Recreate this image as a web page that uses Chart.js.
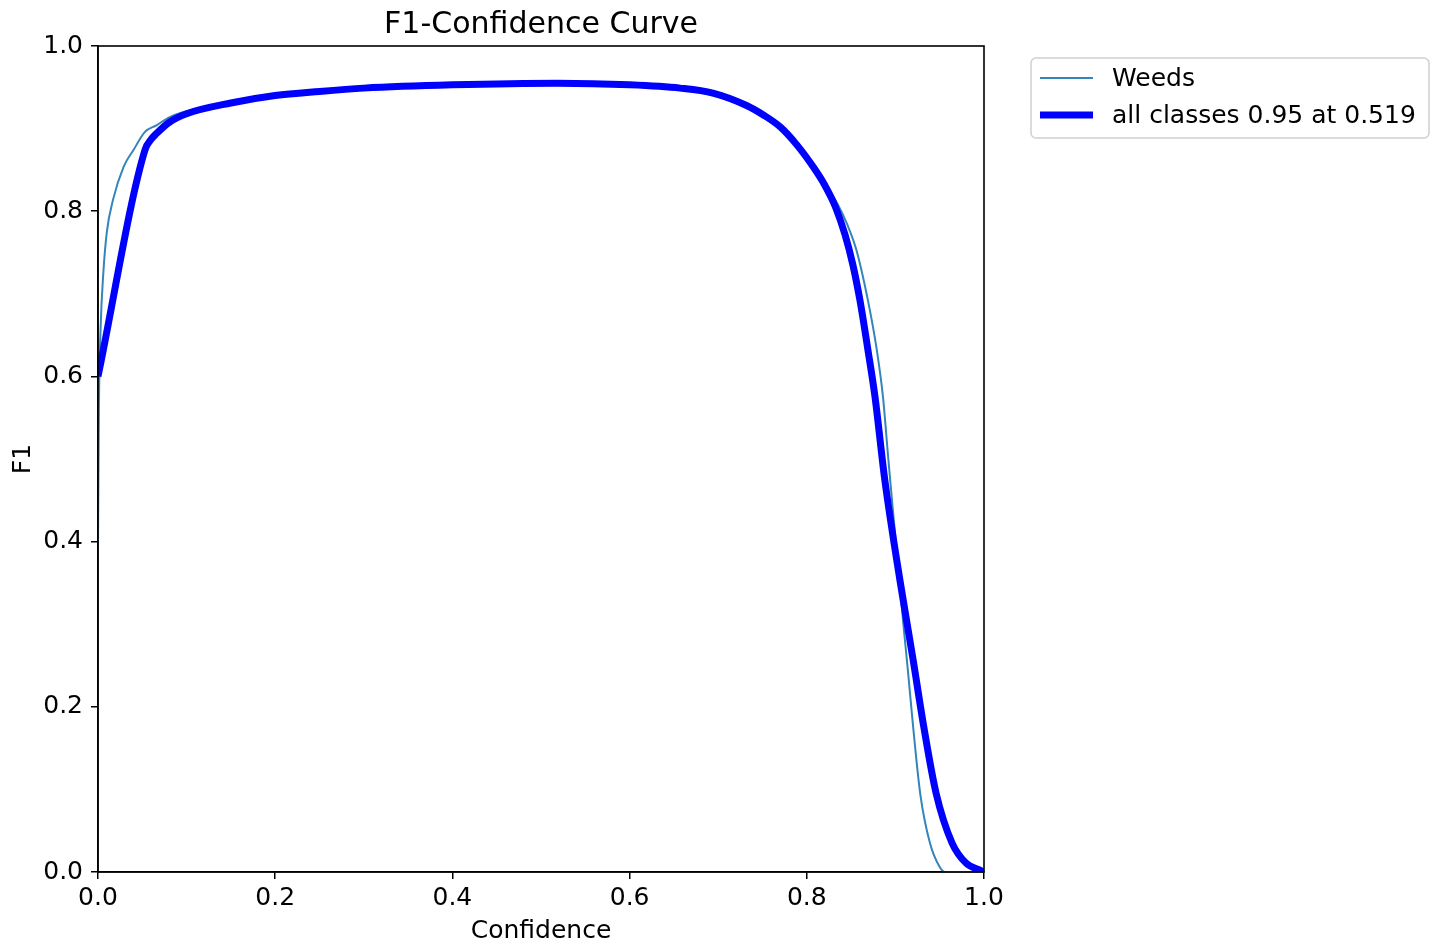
<!DOCTYPE html>
<html>
<head>
<meta charset="utf-8">
<script src="https://cdn.jsdelivr.net/npm/chart.js@4.4.1/dist/chart.umd.min.js"></script>
<style>
  html, body { margin: 0; padding: 0; background: #ffffff; }
  #wrap { width: 1437px; height: 948px; }
</style>
</head>
<body>
<div id="wrap"><canvas id="f1Chart" width="1437" height="948"></canvas></div>
<script>
// values
const weedsConf = [0, 0.001, 0.003, 0.006, 0.010, 0.017, 0.029, 0.040, 0.053, 0.066, 0.081, 0.100, 0.150, 0.200, 0.250, 0.300,
  0.350, 0.400, 0.450, 0.500, 0.550, 0.600, 0.657, 0.694, 0.732, 0.751, 0.770, 0.789, 0.807, 0.822, 0.835, 0.846,
  0.856, 0.869, 0.879, 0.886, 0.892, 0.897, 0.903, 0.909, 0.914, 0.920, 0.928, 0.939, 0.950, 0.956, 1.0];
const weedsF1 = [0.40, 0.56, 0.66, 0.725, 0.775, 0.814, 0.854, 0.874, 0.896, 0.904, 0.914, 0.921, 0.932, 0.940, 0.945, 0.948,
  0.951, 0.953, 0.954, 0.955, 0.955, 0.953, 0.949, 0.943, 0.928, 0.9165, 0.902, 0.880, 0.854, 0.830, 0.808, 0.783,
  0.753, 0.692, 0.632, 0.575, 0.500, 0.440, 0.370, 0.300, 0.245, 0.176, 0.095, 0.035, 0.006, 0.0, 0.0];

const allConf = [0, 0.053, 0.060, 0.066, 0.081, 0.100, 0.150, 0.200, 0.250, 0.300, 0.400, 0.519, 0.600, 0.657, 0.694, 0.732,
  0.751, 0.770, 0.789, 0.807, 0.820, 0.832, 0.843, 0.852, 0.860, 0.869, 0.877, 0.888, 0.905, 0.920, 0.932, 0.946,
  0.964, 0.980, 0.996, 1.0];
const allF1 = [0.60, 0.874, 0.887, 0.894, 0.908, 0.918, 0.931, 0.940, 0.945, 0.949, 0.953, 0.955, 0.953, 0.949, 0.943, 0.928,
  0.9165, 0.902, 0.880, 0.854, 0.832, 0.806, 0.772, 0.735, 0.692, 0.632, 0.575, 0.475, 0.354, 0.257, 0.176, 0.095,
  0.035, 0.0105, 0.002, 0.0];

const axisTicks = [0, 0.2, 0.4, 0.6, 0.8, 1.0];

const baseFont = { family: 'DejaVu Sans', size: 25 };

function toPoints(xs, ys) {
  return xs.map((x, i) => ({ x: x, y: ys[i] }));
}

// frame, title and legend drawn like matplotlib
const mplExtras = {
  id: 'mplExtras',
  afterDraw(chart) {
    const ctx = chart.ctx;
    const area = chart.chartArea;
    ctx.save();
    ctx.strokeStyle = '#000';
    ctx.lineWidth = 1.6;
    ctx.strokeRect(area.left, area.top, area.right - area.left, area.bottom - area.top);

    ctx.fillStyle = '#000';
    ctx.font = '30px "DejaVu Sans"';
    ctx.textAlign = 'center';
    ctx.textBaseline = 'alphabetic';
    ctx.fillText('F1-Confidence Curve', (area.left + area.right) / 2, 33);

    // legend box
    const bx = 1031, by = 58, bw = 398, bh = 80, r = 5;
    ctx.beginPath();
    ctx.moveTo(bx + r, by);
    ctx.arcTo(bx + bw, by, bx + bw, by + bh, r);
    ctx.arcTo(bx + bw, by + bh, bx, by + bh, r);
    ctx.arcTo(bx, by + bh, bx, by, r);
    ctx.arcTo(bx, by, bx + bw, by, r);
    ctx.closePath();
    ctx.fillStyle = '#ffffff';
    ctx.fill();
    ctx.strokeStyle = '#d0d0d0';
    ctx.lineWidth = 1.5;
    ctx.stroke();

    const rows = [78, 115];
    ctx.font = '25px "DejaVu Sans"';
    ctx.textAlign = 'left';
    ctx.textBaseline = 'middle';
    chart.data.datasets.forEach((ds, i) => {
      ctx.strokeStyle = ds.borderColor;
      ctx.lineWidth = ds.borderWidth;
      ctx.beginPath();
      ctx.moveTo(1040, rows[i]);
      ctx.lineTo(1093, rows[i]);
      ctx.stroke();
      ctx.fillStyle = '#000';
      ctx.fillText(ds.label, 1112, rows[i] + 1);
    });
    ctx.restore();
  }
};

const tickGrid = { display: true, drawOnChartArea: false, drawTicks: true, tickLength: 7, color: '#000', lineWidth: 1.5 };

new Chart(document.getElementById('f1Chart'), {
  type: 'scatter',
  data: {
    datasets: [
      {
        label: 'Weeds',
        data: toPoints(weedsConf, weedsF1),
        showLine: true,
        borderColor: '#3385ba',
        borderWidth: 2,
        pointRadius: 0,
        order: 1,
        cubicInterpolationMode: 'monotone'
      },
      {
        label: 'all classes 0.95 at 0.519',
        data: toPoints(allConf, allF1),
        showLine: true,
        borderColor: '#0000ff',
        borderWidth: 7,
        pointRadius: 0,
        order: 0,
        cubicInterpolationMode: 'monotone'
      }
    ]
  },
  options: {
    responsive: false,
    animation: false,
    layout: { padding: { top: 46, right: 453, left: 0, bottom: 0 } },
    plugins: { legend: { display: false }, tooltip: { enabled: false }, title: { display: false } },
    scales: {
      x: {
        type: 'linear',
        min: 0,
        max: 1,
        afterBuildTicks: (scale) => { scale.ticks = axisTicks.map(v => ({ value: v })); },
        afterFit: (scale) => { scale.height = 76; },
        ticks: { color: '#000', font: baseFont, padding: 4, maxRotation: 0, callback: (v) => v.toFixed(1) },
        grid: tickGrid,
        border: { display: true, color: '#000', width: 1.6 },
        title: { display: true, text: 'Confidence', color: '#000', font: baseFont, padding: { top: 4, bottom: 2 } }
      },
      y: {
        type: 'linear',
        min: 0,
        max: 1,
        afterBuildTicks: (scale) => { scale.ticks = axisTicks.map(v => ({ value: v })); },
        afterFit: (scale) => { scale.width = 98; },
        ticks: { color: '#000', font: baseFont, padding: 8, callback: (v) => v.toFixed(1) },
        grid: tickGrid,
        border: { display: true, color: '#000', width: 1.6 },
        title: { display: true, text: 'F1', color: '#000', font: baseFont, padding: { top: 8, bottom: 4 } }
      }
    }
  },
  plugins: [mplExtras]
});
</script>
</body>
</html>
